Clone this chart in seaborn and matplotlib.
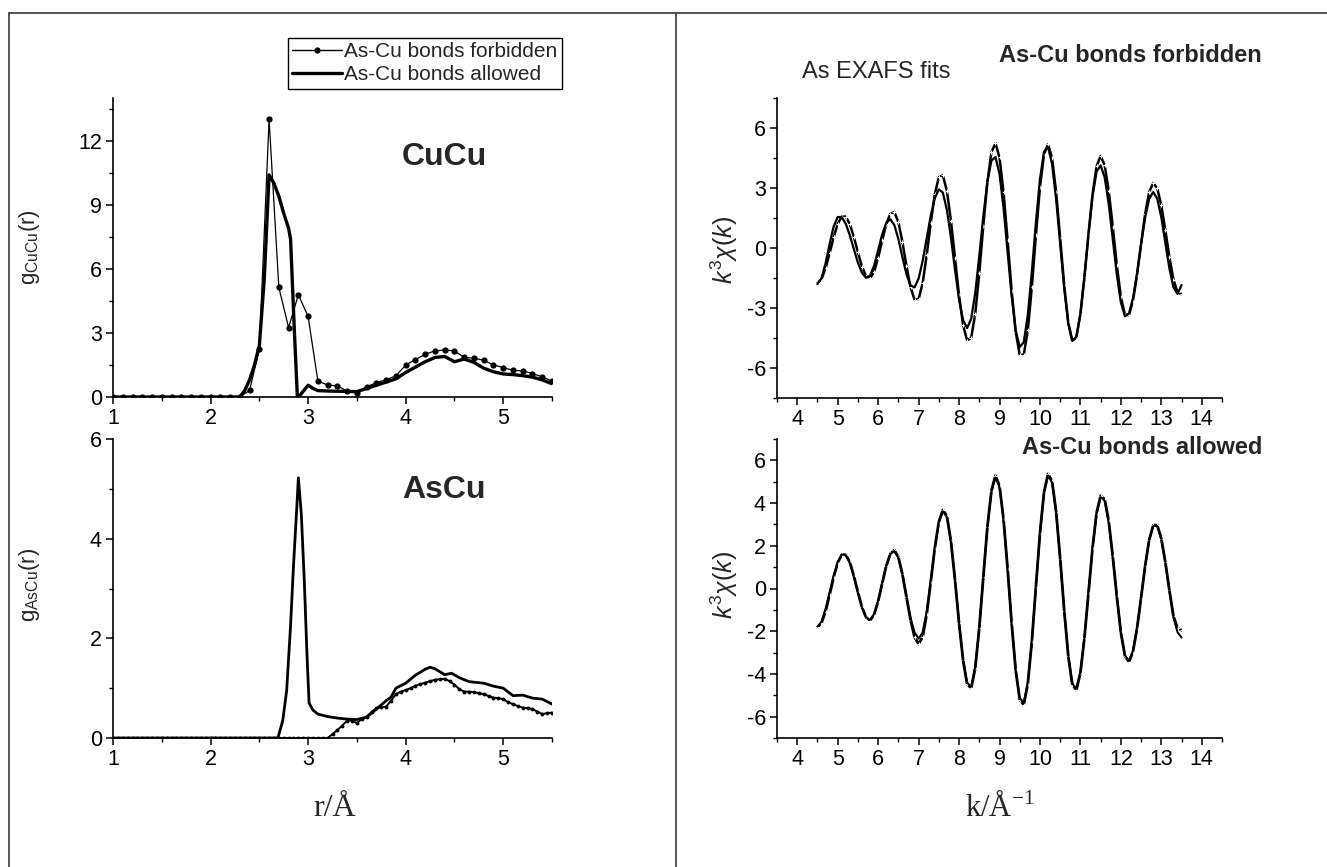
import matplotlib
matplotlib.use("Agg")
import matplotlib.pyplot as plt
import seaborn as sns
from matplotlib.lines import Line2D
from matplotlib.ticker import MultipleLocator

# ---------------- data ----------------
# CuCu g(r), As-Cu bonds forbidden (sampled every 0.1 A)
r_cucu_forb = [1.0, 1.1, 1.2, 1.3, 1.4, 1.5, 1.6, 1.7, 1.8, 1.9, 2.0, 2.1, 2.2, 2.3,
               2.4, 2.5, 2.6, 2.7, 2.8, 2.9, 3.0, 3.1, 3.2, 3.3, 3.4, 3.5, 3.6, 3.7,
               3.8, 3.9, 4.0, 4.1, 4.2, 4.3, 4.4, 4.5, 4.6, 4.7, 4.8, 4.9, 5.0, 5.1,
               5.2, 5.3, 5.4, 5.5]
g_cucu_forb = [0, 0, 0, 0, 0, 0, 0, 0, 0, 0, 0, 0, 0, 0,
               0.31, 2.24, 13.0, 5.13, 3.25, 4.79, 3.77, 0.75, 0.56, 0.52, 0.28, 0.20, 0.48, 0.67,
               0.81, 0.99, 1.50, 1.75, 2.00, 2.16, 2.20, 2.16, 1.85, 1.82, 1.72, 1.50, 1.38, 1.25,
               1.22, 1.10, 0.94, 0.75]

# CuCu g(r), As-Cu bonds allowed
r_cucu_allow = [1.0, 2.3, 2.35, 2.4, 2.45, 2.5, 2.55, 2.6, 2.65, 2.7, 2.75, 2.8, 2.82, 2.86,
                2.89, 2.92, 3.0, 3.05, 3.1, 3.2, 3.3, 3.4, 3.5, 3.6, 3.7, 3.8, 3.9, 4.0,
                4.1, 4.2, 4.3, 4.4, 4.5, 4.6, 4.7, 4.8, 4.9, 5.0, 5.1, 5.2, 5.3, 5.4, 5.5]
g_cucu_allow = [0, 0, 0.3, 0.8, 1.5, 2.4, 5.5, 10.4, 10.0, 9.4, 8.6, 7.9, 7.4, 3.0,
                0.0, 0.1, 0.55, 0.4, 0.3, 0.28, 0.27, 0.26, 0.25, 0.4, 0.55, 0.7, 0.85, 1.15,
                1.4, 1.65, 1.85, 1.9, 1.65, 1.78, 1.62, 1.35, 1.18, 1.08, 1.05, 1.0, 0.93, 0.8, 0.62]

# AsCu g(r), As-Cu bonds forbidden (sampled every 0.05 A)
r_ascu_forb = [1.0, 1.05, 1.1, 1.15, 1.2, 1.25, 1.3, 1.35, 1.4, 1.45, 1.5, 1.55, 1.6, 1.65,
               1.7, 1.75, 1.8, 1.85, 1.9, 1.95, 2.0, 2.05, 2.1, 2.15, 2.2, 2.25, 2.3, 2.35,
               2.4, 2.45, 2.5, 2.55, 2.6, 2.65, 2.7, 2.75, 2.8, 2.85, 2.9, 2.95, 3.0, 3.05,
               3.1, 3.15, 3.2, 3.25, 3.3, 3.35, 3.4, 3.45, 3.5, 3.55, 3.6, 3.65, 3.7, 3.75,
               3.8, 3.85, 3.9, 3.95, 4.0, 4.05, 4.1, 4.15, 4.2, 4.25, 4.3, 4.35, 4.4, 4.45,
               4.5, 4.55, 4.6, 4.65, 4.7, 4.75, 4.8, 4.85, 4.9, 4.95, 5.0, 5.05, 5.1, 5.15,
               5.2, 5.25, 5.3, 5.35, 5.4, 5.45, 5.5]
g_ascu_forb = [0, 0, 0, 0, 0, 0, 0, 0, 0, 0, 0, 0, 0, 0,
               0, 0, 0, 0, 0, 0, 0, 0, 0, 0, 0, 0, 0, 0,
               0, 0, 0, 0, 0, 0, 0, 0, 0, 0, 0, 0, 0, 0,
               0, 0, 0, 0.08, 0.16, 0.25, 0.35, 0.35, 0.30, 0.38, 0.43, 0.52, 0.60, 0.62,
               0.63, 0.75, 0.88, 0.93, 0.96, 1.00, 1.05, 1.08, 1.11, 1.14, 1.17, 1.18, 1.19, 1.14,
               1.07, 0.98, 0.93, 0.93, 0.92, 0.90, 0.88, 0.84, 0.81, 0.80, 0.78, 0.72, 0.68, 0.64,
               0.61, 0.60, 0.58, 0.53, 0.48, 0.50, 0.51]

# AsCu g(r), As-Cu bonds allowed
r_ascu_allow = [1.0, 2.69, 2.74, 2.78, 2.82, 2.85, 2.885, 2.90, 2.93, 2.96,
                2.99, 3.01, 3.05, 3.1, 3.2, 3.3, 3.4, 3.5, 3.6, 3.7,
                3.8, 3.85, 3.9, 4.0, 4.1, 4.2, 4.25, 4.3, 4.4, 4.47,
                4.55, 4.65, 4.8, 4.9, 5.0, 5.1, 5.2, 5.3, 5.4, 5.5]
g_ascu_allow = [0, 0, 0.35, 0.95, 2.25, 3.45, 4.66, 5.22, 4.5, 3.2,
                1.6, 0.7, 0.56, 0.48, 0.43, 0.40, 0.38, 0.37, 0.42, 0.58,
                0.75, 0.82, 1.0, 1.1, 1.26, 1.38, 1.42, 1.39, 1.27, 1.30,
                1.21, 1.13, 1.10, 1.04, 1.0, 0.85, 0.86, 0.80, 0.78, 0.68]

# EXAFS k-grid (1/A)
k_vals = [4.5, 4.6, 4.7, 4.8, 4.9, 5.0, 5.1, 5.2, 5.3, 5.4, 5.5, 5.6, 5.7, 5.8, 5.9,
          6.0, 6.1, 6.2, 6.3, 6.4, 6.5, 6.6, 6.7, 6.8, 6.9, 7.0, 7.1, 7.2, 7.3, 7.4,
          7.5, 7.6, 7.7, 7.8, 7.9, 8.0, 8.1, 8.2, 8.3, 8.4, 8.5, 8.6, 8.7, 8.8, 8.9,
          9.0, 9.1, 9.2, 9.3, 9.4, 9.5, 9.6, 9.7, 9.8, 9.9, 10.0, 10.1, 10.2, 10.3, 10.4,
          10.5, 10.6, 10.7, 10.8, 10.9, 11.0, 11.1, 11.2, 11.3, 11.4, 11.5, 11.6, 11.7, 11.8,
          11.9, 12.0, 12.1, 12.2, 12.3, 12.4, 12.5, 12.6, 12.7, 12.8, 12.9, 13.0, 13.1, 13.2,
          13.3, 13.4, 13.5]

# forbidden: experiment-like curve and fit
chi_forb_a = [-1.75, -1.56, -1.02, -0.27, 0.53, 1.20, 1.57, 1.57, 1.20, 0.55, -0.22, -0.93, -1.40, -1.51, -1.19,
              -0.50, 0.38, 1.19, 1.71, 1.80, 1.30, 0.30, -0.90, -1.96, -2.58, -2.56, -1.76, -0.37, 1.25, 2.68,
              3.55, 3.63, 2.85, 1.37, -0.50, -2.37, -3.85, -4.63, -4.49, -3.29, -1.26, 1.11, 3.29, 4.79, 5.24,
              4.53, 2.78, 0.39, -2.13, -4.19, -5.35, -5.34, -4.11, -1.95, 0.64, 3.03, 4.69, 5.19, 4.50, 2.79,
              0.49, -1.87, -3.72, -4.65, -4.45, -3.30, -1.45, 0.71, 2.70, 4.09, 4.60, 4.14, 2.86, 1.06,
              -0.85, -2.44, -3.33, -3.36, -2.63, -1.35, 0.22, 1.71, 2.80, 3.25, 2.98, 2.13, 0.88, -0.46,
              -1.58, -2.22, -2.30]
chi_forb_b = [-1.80, -1.52, -0.77, 0.19, 1.07, 1.55, 1.54, 1.21, 0.64, -0.06, -0.73, -1.24, -1.49, -1.39, -0.88,
              -0.11, 0.68, 1.26, 1.44, 1.15, 0.45, -0.46, -1.31, -1.87, -1.97, -1.53, -0.65, 0.48, 1.61, 2.49,
              2.93, 2.77, 1.90, 0.52, -1.09, -2.58, -3.62, -4.00, -3.54, -2.25, -0.40, 1.59, 3.31, 4.37, 4.55,
              3.71, 2.00, -0.20, -2.40, -4.11, -4.95, -4.71, -3.34, -1.18, 1.28, 3.44, 4.81, 5.05, 4.19, 2.44,
              0.20, -2.04, -3.79, -4.65, -4.45, -3.29, -1.43, 0.68, 2.58, 3.82, 4.13, 3.53, 2.20, 0.44,
              -1.33, -2.72, -3.41, -3.28, -2.51, -1.26, 0.18, 1.52, 2.46, 2.80, 2.46, 1.53, 0.25, -1.03,
              -1.96, -2.30, -1.85]

# allowed: experiment-like curve and fit
chi_allow_a = [-1.82, -1.62, -1.08, -0.30, 0.52, 1.20, 1.58, 1.58, 1.23, 0.59, -0.17, -0.87, -1.35, -1.50, -1.23,
               -0.60, 0.24, 1.05, 1.62, 1.80, 1.47, 0.67, -0.40, -1.47, -2.27, -2.60, -2.27, -1.21, 0.30, 1.89,
               3.12, 3.68, 3.39, 2.21, 0.40, -1.62, -3.37, -4.48, -4.67, -3.73, -1.85, 0.54, 2.87, 4.58, 5.29,
               4.81, 3.24, 0.93, -1.62, -3.83, -5.20, -5.44, -4.46, -2.47, 0.08, 2.60, 4.51, 5.37, 5.02, 3.59,
               1.40, -1.04, -3.17, -4.51, -4.75, -3.95, -2.31, -0.20, 1.91, 3.55, 4.35, 4.18, 3.15, 1.50,
               -0.37, -2.06, -3.16, -3.44, -2.95, -1.87, -0.43, 1.06, 2.28, 2.96, 2.97, 2.34, 1.23, -0.09,
               -1.29, -1.85, -1.95]
chi_allow_b = [-1.78, -1.55, -0.95, -0.18, 0.60, 1.24, 1.58, 1.57, 1.21, 0.57, -0.19, -0.88, -1.34, -1.47, -1.20,
               -0.58, 0.25, 1.05, 1.60, 1.76, 1.44, 0.66, -0.35, -1.35, -2.05, -2.35, -2.05, -1.10, 0.35, 1.88,
               3.08, 3.62, 3.35, 2.19, 0.40, -1.60, -3.33, -4.42, -4.60, -3.68, -1.83, 0.54, 2.85, 4.52, 5.20,
               4.76, 3.21, 0.92, -1.60, -3.78, -5.12, -5.36, -4.40, -2.44, 0.08, 2.57, 4.45, 5.30, 4.96, 3.55,
               1.38, -1.03, -3.13, -4.45, -4.69, -3.90, -2.28, -0.20, 1.88, 3.50, 4.28, 4.12, 3.10, 1.48,
               -0.36, -2.03, -3.12, -3.40, -2.92, -1.85, -0.42, 1.05, 2.25, 2.92, 2.93, 2.30, 1.20, -0.10,
               -1.35, -2.05, -2.30]

legend_labels = ["As-Cu bonds forbidden", "As-Cu bonds allowed"]

# ---------------- style ----------------
sns.set_theme(style="ticks")
plt.rcParams["font.family"] = ["Liberation Sans", "DejaVu Sans"]
plt.rcParams["mathtext.fontset"] = "custom"
plt.rcParams["mathtext.rm"] = "Liberation Sans"
plt.rcParams["mathtext.it"] = "Liberation Sans:italic"
plt.rcParams["mathtext.bf"] = "Liberation Sans:bold"
plt.rcParams["axes.unicode_minus"] = False

W, H = 1327, 867
fig = plt.figure(figsize=(W / 100, H / 100), dpi=100)
fig.patch.set_facecolor("white")


def ax_px(x0, y0, x1, y1):
    return fig.add_axes([x0 / W, 1 - y1 / H, (x1 - x0) / W, (y1 - y0) / H])


ax1 = ax_px(113, 98, 552, 397)
ax2 = ax_px(113, 439, 552, 738)
ax3 = ax_px(777, 98, 1222, 398)
ax4 = ax_px(777, 439, 1222, 738)

for ax in (ax1, ax2, ax3, ax4):
    ax.set_facecolor("white")
    for s in ("top", "right"):
        ax.spines[s].set_visible(False)
    for s in ("left", "bottom"):
        ax.spines[s].set_color("black")
        ax.spines[s].set_linewidth(1.2)
    ax.tick_params(which="major", direction="out", length=5, width=1.1,
                   labelsize=15.5, colors="black", pad=3)
    ax.tick_params(which="minor", direction="out", length=3, width=1.0, colors="black")
    ax.grid(False)

# ---- left top: CuCu ----
sns.lineplot(x=r_cucu_allow, y=g_cucu_allow, ax=ax1, color="black", linewidth=2.4,
             estimator=None, sort=False)
sns.lineplot(x=r_cucu_forb, y=g_cucu_forb, ax=ax1, color="black", linewidth=0.9,
             marker="o", markersize=4.5, markeredgewidth=0, estimator=None, sort=False)
ax1.set_xlim(1, 5.5)
ax1.set_ylim(0, 14)
ax1.xaxis.set_major_locator(MultipleLocator(1))
ax1.xaxis.set_minor_locator(MultipleLocator(0.5))
ax1.set_yticks([0, 3, 6, 9, 12])
ax1.yaxis.set_minor_locator(MultipleLocator(1.5))

# ---- left bottom: AsCu ----
sns.lineplot(x=r_ascu_allow, y=g_ascu_allow, ax=ax2, color="black", linewidth=2.0,
             estimator=None, sort=False)
sns.lineplot(x=r_ascu_forb, y=g_ascu_forb, ax=ax2, color="black", linewidth=1.4,
             marker="o", markersize=2.8, markeredgewidth=0, estimator=None, sort=False)
ax2.set_xlim(1, 5.5)
ax2.set_ylim(0, 6)
ax2.xaxis.set_major_locator(MultipleLocator(1))
ax2.xaxis.set_minor_locator(MultipleLocator(0.5))
ax2.yaxis.set_major_locator(MultipleLocator(2))
ax2.yaxis.set_minor_locator(MultipleLocator(1))

# ---- right top: EXAFS forbidden ----
sns.lineplot(x=k_vals, y=chi_forb_a, ax=ax3, color="black", linewidth=1.8,
             marker="+", markersize=3, markeredgewidth=0.8, estimator=None, sort=False)
sns.lineplot(x=k_vals, y=chi_forb_b, ax=ax3, color="black", linewidth=1.6,
             estimator=None, sort=False)
ax3.set_xlim(3.5, 14.5)
ax3.set_ylim(-7.5, 7.5)
ax3.xaxis.set_major_locator(MultipleLocator(1))
ax3.xaxis.set_minor_locator(MultipleLocator(0.5))
ax3.set_yticks([-6, -3, 0, 3, 6])
ax3.yaxis.set_minor_locator(MultipleLocator(1.5))

# ---- right bottom: EXAFS allowed ----
sns.lineplot(x=k_vals, y=chi_allow_a, ax=ax4, color="black", linewidth=2.0,
             marker="+", markersize=3, markeredgewidth=0.8, estimator=None, sort=False)
sns.lineplot(x=k_vals, y=chi_allow_b, ax=ax4, color="black", linewidth=1.4,
             estimator=None, sort=False)
ax4.set_xlim(3.5, 14.5)
ax4.set_ylim(-7, 7)
ax4.xaxis.set_major_locator(MultipleLocator(1))
ax4.xaxis.set_minor_locator(MultipleLocator(0.5))
ax4.set_yticks([-6, -4, -2, 0, 2, 4, 6])
ax4.yaxis.set_minor_locator(MultipleLocator(1))

for ax in (ax1, ax2, ax3, ax4):
    ax.set_xlabel("")
    ax.set_ylabel("")

# ---------------- frame lines ----------------
lc = "#3a3a3a"
fig.add_artist(Line2D([9 / W, 1], [1 - 13 / H, 1 - 13 / H], color=lc, lw=1.2))
fig.add_artist(Line2D([9 / W, 9 / W], [0, 1 - 13 / H], color=lc, lw=1.2))
fig.add_artist(Line2D([676 / W, 676 / W], [0, 1 - 13 / H], color=lc, lw=1.2))

# ---------------- legend ----------------
handles = [Line2D([0], [0], color="black", lw=1.0, marker="o", markersize=4.5, markeredgewidth=0),
           Line2D([0], [0], color="black", lw=2.4)]
leg = fig.legend(handles=handles, labels=legend_labels, loc="upper left",
                 bbox_to_anchor=(288 / W, 1 - 38 / H), frameon=True, fancybox=False,
                 edgecolor="black", framealpha=1, fontsize=15, handlelength=2.4,
                 handletextpad=0.1, borderpad=0.2, labelspacing=0.2, borderaxespad=0)
leg.get_frame().set_linewidth(1.0)

# ---------------- texts ----------------
fig.text(444 / W, 1 - 157 / H, "CuCu", ha="center", va="center", fontsize=23, fontweight="bold")
fig.text(444 / W, 1 - 490 / H, "AsCu", ha="center", va="center", fontsize=23, fontweight="bold")
fig.text(30 / W, 1 - 247 / H, r"g$_{\mathrm{CuCu}}$(r)", rotation=90, ha="center", va="center",
         fontsize=16)
fig.text(30 / W, 1 - 585 / H, r"g$_{\mathrm{AsCu}}$(r)", rotation=90, ha="center", va="center",
         fontsize=16)
fig.text(335 / W, 1 - 808 / H, "r/Å", ha="center", va="center", fontsize=23,
         family=["Liberation Serif", "DejaVu Serif"])
fig.text(1000 / W, 1 - 808 / H, r"k/Å$^{\mathregular{-1}}$", ha="center", va="center", fontsize=22,
         family=["Liberation Serif", "DejaVu Serif"])
fig.text(724 / W, 1 - 250 / H, r"$k^{3}\chi(k)$", rotation=90, ha="center", va="center", fontsize=18)
fig.text(724 / W, 1 - 585 / H, r"$k^{3}\chi(k)$", rotation=90, ha="center", va="center", fontsize=18)
fig.text(876 / W, 1 - 72 / H, "As EXAFS fits", ha="center", va="center", fontsize=17)
fig.text(1262 / W, 1 - 55 / H, "As-Cu bonds forbidden", ha="right", va="center", fontsize=17,
         fontweight="bold")
fig.text(1262 / W, 1 - 447 / H, "As-Cu bonds allowed", ha="right", va="center", fontsize=17,
         fontweight="bold")

fig.savefig("out.png", dpi=100, facecolor="white")
